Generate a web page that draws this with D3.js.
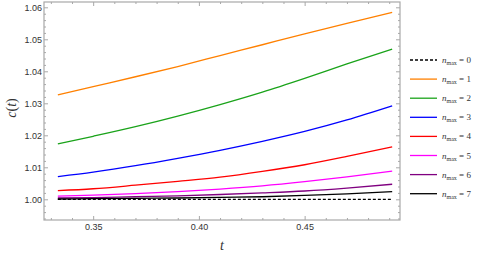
<!DOCTYPE html>
<html>
<head>
<meta charset="utf-8">
<script src="https://cdn.jsdelivr.net/npm/d3@7"></script>
<style>
  body { margin: 0; background: #fff; }
  svg { display: block; }
</style>
</head>
<body>
<svg></svg>
<script>
'use strict';

var SVG_SIZE = {width: 479, height: 257};

// t values where the curves were read
var tValues = [0.3333, 0.35, 0.37, 0.39, 0.41, 0.43, 0.45, 0.47, 0.4914];

// c(t) for each n_max
var cN0 = [1.0, 1.0, 1.0, 1.0, 1.0, 1.0, 1.0, 1.0, 1.0];
var cN1 = [1.0326, 1.0352, 1.0383, 1.0415, 1.0449, 1.0483, 1.0517, 1.0550, 1.0584];
var cN2 = [1.0173, 1.0197, 1.0227, 1.0260, 1.0296, 1.0335, 1.0378, 1.0423, 1.0469];
var cN3 = [1.0071, 1.0085, 1.0105, 1.0128, 1.0153, 1.0181, 1.0212, 1.0248, 1.0292];
var cN4 = [1.0027, 1.0033, 1.0044, 1.0056, 1.0069, 1.0087, 1.0108, 1.0134, 1.0164];
var cN5 = [1.0010, 1.0013, 1.0018, 1.0024, 1.0032, 1.0042, 1.0055, 1.0070, 1.0088];
var cN6 = [1.0004, 1.0005, 1.0008, 1.0011, 1.0015, 1.0020, 1.0026, 1.0035, 1.0047];
var cN7 = [1.0001, 1.0002, 1.0003, 1.0004, 1.0006, 1.0008, 1.0012, 1.0017, 1.0024];

var seriesNames = ['0', '1', '2', '3', '4', '5', '6', '7'];
var seriesValues = [cN0, cN1, cN2, cN3, cN4, cN5, cN6, cN7];
var seriesColors = ['#000000', '#ff8000', '#1aa31a', '#0000ff', '#ff0000', '#ff00ff', '#800080', '#000000'];

var xTicks = [0.35, 0.40, 0.45];
var yTicks = [1.00, 1.01, 1.02, 1.03, 1.04, 1.05, 1.06];

var svg = d3.select('svg')
  .attr('width', SVG_SIZE.width).attr('height', SVG_SIZE.height);

var xScale = d3.scaleLinear().domain([0.32675, 0.4951]).range([44, 400]);
var yScale = d3.scaleLinear().domain([0.99353, 1.06166]).range([220, 2]);

var frameColor = '#a8a8a8';
var labelFont = '"Liberation Sans", Arial, sans-serif';

// minor tick values
var xMinor = d3.range(0.33, 0.495, 0.01).filter(function(v){
  return xTicks.every(function(t){ return Math.abs(t - v) > 1e-6; });
});
var yMinor = d3.range(0.994, 1.0615, 0.002).filter(function(v){
  return yTicks.every(function(t){ return Math.abs(t - v) > 1e-6; });
});

function styleAxis(g) {
  g.select('.domain').remove();
  g.selectAll('line').attr('stroke', frameColor);
  g.selectAll('text').attr('fill', '#333').style('font-family', labelFont).style('font-size', '9px');
}

// bottom
svg.append('g').attr('transform', 'translate(0,220)')
  .call(d3.axisBottom(xScale).tickValues(xTicks).tickFormat(d3.format('.2f')).tickSize(-4).tickSizeOuter(0).tickPadding(4))
  .call(styleAxis);
svg.append('g').attr('transform', 'translate(0,220)')
  .call(d3.axisBottom(xScale).tickValues(xMinor).tickFormat('').tickSize(-2).tickSizeOuter(0))
  .call(styleAxis);
// top
svg.append('g').attr('transform', 'translate(0,2)')
  .call(d3.axisTop(xScale).tickValues(xTicks).tickFormat('').tickSize(-4).tickSizeOuter(0))
  .call(styleAxis);
svg.append('g').attr('transform', 'translate(0,2)')
  .call(d3.axisTop(xScale).tickValues(xMinor).tickFormat('').tickSize(-2).tickSizeOuter(0))
  .call(styleAxis);
// left
svg.append('g').attr('transform', 'translate(44,0)')
  .call(d3.axisLeft(yScale).tickValues(yTicks).tickFormat(d3.format('.2f')).tickSize(-4).tickSizeOuter(0).tickPadding(2))
  .call(styleAxis);
svg.append('g').attr('transform', 'translate(44,0)')
  .call(d3.axisLeft(yScale).tickValues(yMinor).tickFormat('').tickSize(-2).tickSizeOuter(0))
  .call(styleAxis);
// right
svg.append('g').attr('transform', 'translate(400,0)')
  .call(d3.axisRight(yScale).tickValues(yTicks).tickFormat('').tickSize(-4).tickSizeOuter(0))
  .call(styleAxis);
svg.append('g').attr('transform', 'translate(400,0)')
  .call(d3.axisRight(yScale).tickValues(yMinor).tickFormat('').tickSize(-2).tickSizeOuter(0))
  .call(styleAxis);

// frame
svg.append('rect')
  .attr('x', 44).attr('y', 2).attr('width', 356).attr('height', 218)
  .attr('fill', 'none').attr('stroke', frameColor).attr('stroke-width', 1.2);

// curves
var line = d3.line()
  .x(function(d, i){ return xScale(tValues[i]); })
  .y(function(d){ return yScale(d); })
  .curve(d3.curveMonotoneX);

var plot = svg.append('g');
seriesValues.forEach(function(vals, k){
  plot.append('path')
    .attr('d', line(vals))
    .attr('fill', 'none')
    .attr('stroke', seriesColors[k])
    .attr('stroke-width', 1.3)
    .attr('stroke-dasharray', k === 0 ? '3,2' : null);
});

// axis titles
svg.append('text').text('t')
  .attr('x', 222).attr('y', 250)
  .attr('text-anchor', 'middle')
  .style('font-family', '"Liberation Serif", "Times New Roman", serif')
  .style('font-style', 'italic').style('font-size', '14px').attr('fill', '#333');
svg.append('text')
  .attr('transform', 'translate(16,108) rotate(-90)')
  .attr('text-anchor', 'middle')
  .style('font-family', '"Liberation Serif", "Times New Roman", serif')
  .style('font-size', '14px').attr('fill', '#333')
  .call(function(t){
    t.append('tspan').text('c').style('font-style', 'italic');
    t.append('tspan').text('(');
    t.append('tspan').text('t').style('font-style', 'italic');
    t.append('tspan').text(')');
  });

// legend
var legend = svg.append('g');
seriesNames.forEach(function(name, k){
  var yy = 60 + k * 19.1;
  legend.append('line')
    .attr('x1', 410).attr('x2', 437).attr('y1', yy).attr('y2', yy)
    .attr('stroke', seriesColors[k]).attr('stroke-width', 1.3)
    .attr('stroke-dasharray', k === 0 ? '3,2' : null);
  var txt = legend.append('text')
    .attr('x', 442).attr('y', yy + 3)
    .style('font-family', '"Liberation Serif", "Times New Roman", serif')
    .style('font-size', '9px').attr('fill', '#333');
  txt.append('tspan').text('n').style('font-style', 'italic');
  txt.append('tspan').text('max').attr('dy', 2).style('font-size', '6px');
  txt.append('tspan').text(' = ' + name).attr('dy', -2);
});
</script>
</body>
</html>
